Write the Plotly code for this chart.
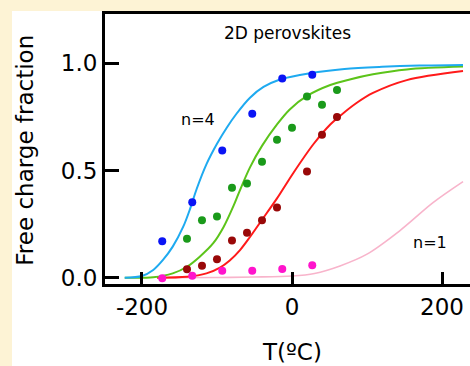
import plotly.graph_objects as go

# ---- data ----
blue_T = [-173, -133, -93, -53, -13, 27]
blue_v = [0.170, 0.352, 0.594, 0.765, 0.930, 0.947]

green_T = [-140, -120, -100, -80, -60, -40, -20, 0, 20, 40, 60]
green_v = [0.182, 0.268, 0.285, 0.420, 0.439, 0.541, 0.644, 0.700, 0.846, 0.807, 0.876]

dred_T = [-140, -120, -100, -80, -60, -40, -20, 20, 40, 60]
dred_v = [0.039, 0.056, 0.086, 0.174, 0.210, 0.268, 0.328, 0.496, 0.667, 0.750]

mag_T = [-173, -133, -93, -53, -13, 27]
mag_v = [-0.003, 0.009, 0.033, 0.033, 0.041, 0.058]

# fitted curves
cyan_T = [-223, -200, -185, -172, -159, -145, -136, -127, -114, -100, -87, -74, -56, -38, -16, 24, 70, 120, 170, 228]
cyan_v = [0.0, 0.008, 0.036, 0.083, 0.145, 0.238, 0.320, 0.415, 0.530, 0.625, 0.700, 0.765, 0.840, 0.890, 0.925, 0.954, 0.974, 0.984, 0.990, 0.993]

lgreen_T = [-223, -185, -159, -140, -123, -105, -91, -78, -71, -56, -40, -20, -3, 20, 51, 77, 108, 153, 228]
lgreen_v = [0.0, 0.002, 0.020, 0.051, 0.098, 0.161, 0.238, 0.335, 0.395, 0.515, 0.615, 0.715, 0.785, 0.848, 0.899, 0.925, 0.949, 0.972, 0.985]

red_T = [-180, -140, -114, -96, -83, -69, -56, -40, -20, 2, 29, 51, 64, 86, 108, 153, 228]
red_v = [0.0, 0.004, 0.020, 0.047, 0.080, 0.130, 0.190, 0.270, 0.370, 0.490, 0.625, 0.715, 0.755, 0.815, 0.862, 0.922, 0.964]

pink_T = [-175, -100, -50, 0, 30, 64, 100, 144, 188, 228]
pink_v = [0.0, 0.001, 0.003, 0.008, 0.020, 0.055, 0.110, 0.220, 0.350, 0.448]

x_ticks = [-200, 0, 200]
x_ticklabels = ["-200", "0", "200"]
y_ticks = [0.0, 0.5, 1.0]
y_ticklabels = ["0.0", "0.5", "1.0"]

FONT = "DejaVu Sans"

fig = go.Figure()

def line(x, y, color, w):
    fig.add_trace(go.Scatter(x=x, y=y, mode="lines",
                             line=dict(color=color, width=w, shape="spline", smoothing=0.9),
                             hoverinfo="skip", showlegend=False))

def pts(x, y, color):
    fig.add_trace(go.Scatter(x=x, y=y, mode="markers", marker=dict(color=color, size=8, line=dict(width=0)),
                             showlegend=False))

line(pink_T, pink_v, "#f8b4cb", 1.6)
line(red_T, red_v, "#ff1a1a", 2)
line(lgreen_T, lgreen_v, "#5cc41a", 2)
line(cyan_T, cyan_v, "#1eaaf0", 2)

pts(blue_T, blue_v, "#0a14f5")
pts(green_T, green_v, "#1a9a1a")
pts(dred_T, dred_v, "#990808")
pts(mag_T, mag_v, "#ff14cc")

fig.update_layout(
    width=470, height=366,
    margin=dict(l=105, r=0, t=14, b=82),
    paper_bgcolor="#fdf3d5",
    plot_bgcolor="white",
    font=dict(family=FONT, color="black"),
    showlegend=False,
    xaxis=dict(range=[-249.3, 237.3], tickvals=x_ticks, ticktext=x_ticklabels, ticks="inside",
               ticklen=12, tickwidth=3, tickcolor="black", showline=True, linewidth=3,
               linecolor="black", mirror=True, showgrid=False, zeroline=False,
               tickfont=dict(size=23, family=FONT)),
    yaxis=dict(range=[-0.0294, 1.2305], tickvals=y_ticks, ticktext=y_ticklabels, ticks="inside",
               ticklen=14, tickwidth=3, tickcolor="black", showline=True, linewidth=3,
               linecolor="black", mirror=False, showgrid=False, zeroline=False,
               tickfont=dict(size=23, family=FONT)),
    shapes=[dict(type="rect", xref="paper", yref="paper", x0=-0.2548, x1=1.2, y0=-0.5, y1=1.0111,
                 fillcolor="white", line=dict(width=0), layer="below")],
    annotations=[
        dict(text="Free charge fraction", xref="paper", yref="paper", x=-0.219, y=0.494,
             xanchor="center", yanchor="middle", textangle=-90, showarrow=False,
             font=dict(size=23, family=FONT)),
        dict(text="T(ºC)", xref="paper", yref="paper", x=0.512, y=-0.252, xanchor="center",
             yanchor="middle", showarrow=False, font=dict(size=23, family=FONT)),
        dict(text="2D perovskites", xref="paper", yref="paper", x=0.501, y=0.930, xanchor="center",
             yanchor="middle", showarrow=False, font=dict(size=17, family=FONT)),
        dict(text="n=4", x=-125, y=0.74, xref="x", yref="y", showarrow=False,
             font=dict(size=16, family=FONT)),
        dict(text="n=1", x=184, y=0.162, xref="x", yref="y", showarrow=False,
             font=dict(size=16, family=FONT)),
    ],
)

fig.write_html("out.html")
